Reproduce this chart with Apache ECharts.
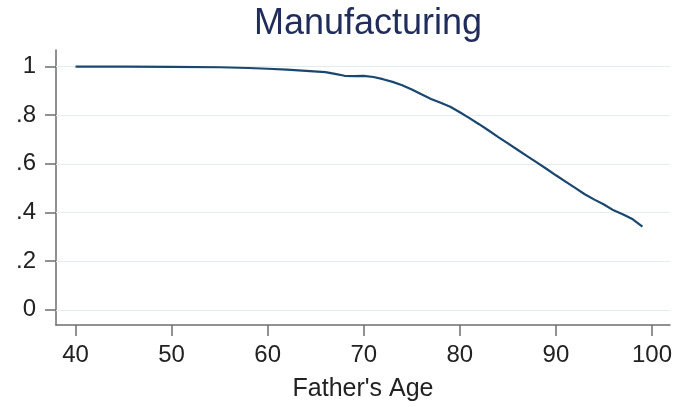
<!DOCTYPE html>
<html>
<head>
<meta charset="utf-8">
<script src="https://cdn.jsdelivr.net/npm/echarts@6/dist/echarts.min.js"></script>
<style>
  html, body { margin: 0; padding: 0; background: #fff; }
  #chart { width: 679px; height: 407px; }
</style>
</head>
<body>
<div id="chart"></div>
<script>
// Share of manufacturing by father's age
const ages = [40, 45, 50, 55, 58, 60, 62, 64, 66, 67, 68, 69, 70, 71, 72, 73, 74, 75, 76, 77, 78, 79,
              80, 81, 82, 83, 84, 85, 86, 87, 88, 89, 90, 91, 92, 93, 94, 95, 96, 97, 98, 99];
const shares = [1.0, 1.0, 0.999, 0.997, 0.994, 0.991, 0.987, 0.982, 0.977, 0.970, 0.962, 0.961, 0.962,
                0.957, 0.948, 0.937, 0.923, 0.906, 0.886, 0.867, 0.851, 0.835,
                0.812, 0.788, 0.763, 0.737, 0.710, 0.684, 0.658, 0.632, 0.606, 0.580, 0.553,
                0.527, 0.501, 0.475, 0.453, 0.433, 0.409, 0.392, 0.372, 0.342];

const xTicks = [40, 50, 60, 70, 80, 90, 100];
const yTicks = [0, 0.2, 0.4, 0.6, 0.8, 1];

const FONT = 'Liberation Sans, Arial, Helvetica, sans-serif';
const AXIS_GRAY = '#6e6e6e';

const fmtY = v => {
  if (Math.abs(v) < 1e-9) return '0';
  if (Math.abs(v - 1) < 1e-9) return '1';
  return String(Math.round(v * 10) / 10).replace(/^0/, '');
};

const chart = echarts.init(document.getElementById('chart'), null, { renderer: 'canvas' });

chart.setOption({
  animation: false,
  backgroundColor: '#ffffff',
  title: {
    text: 'Manufacturing',
    left: 363,
    textAlign: 'center',
    top: 1,
    textStyle: { fontFamily: FONT, fontSize: 36, fontWeight: 'normal', color: '#1f2c5c' }
  },
  grid: { left: 56, right: 9, top: 50, bottom: 80, containLabel: false },
  xAxis: {
    type: 'value',
    min: 37.97,
    max: 101.87,
    name: "Father's Age",
    nameLocation: 'middle',
    nameGap: 52,
    nameTextStyle: { fontFamily: FONT, fontSize: 25, color: '#222' },
    axisLine: { show: true, onZero: false, lineStyle: { color: AXIS_GRAY, width: 1.5 } },
    axisTick: { show: true, length: 11, customValues: xTicks, lineStyle: { color: AXIS_GRAY, width: 1.5 } },
    axisLabel: { customValues: xTicks, margin: 18, fontFamily: FONT, fontSize: 24, color: '#222' },
    splitLine: { show: false }
  },
  yAxis: {
    type: 'value',
    min: -0.0624,
    max: 1.068,
    axisLine: { show: true, onZero: false, lineStyle: { color: AXIS_GRAY, width: 1.5 } },
    axisTick: { show: true, length: 11, customValues: yTicks, lineStyle: { color: AXIS_GRAY, width: 1.5 } },
    axisLabel: { customValues: yTicks, margin: 20, fontFamily: FONT, fontSize: 24, color: '#222', formatter: fmtY },
    splitLine: { show: false }
  },
  series: [{
    type: 'line',
    data: ages.map((a, i) => [a, shares[i]]),
    showSymbol: false,
    smooth: false,
    lineStyle: { color: '#1a476f', width: 2.2 },
    itemStyle: { color: '#1a476f' },
    z: 3,
    markLine: {
      silent: true,
      symbol: ['none', 'none'],
      label: { show: false },
      lineStyle: { color: '#e3edf0', width: 1.2, type: 'solid' },
      data: yTicks.map(v => ({ yAxis: v })),
      z: 1
    }
  }]
});
</script>
</body>
</html>
